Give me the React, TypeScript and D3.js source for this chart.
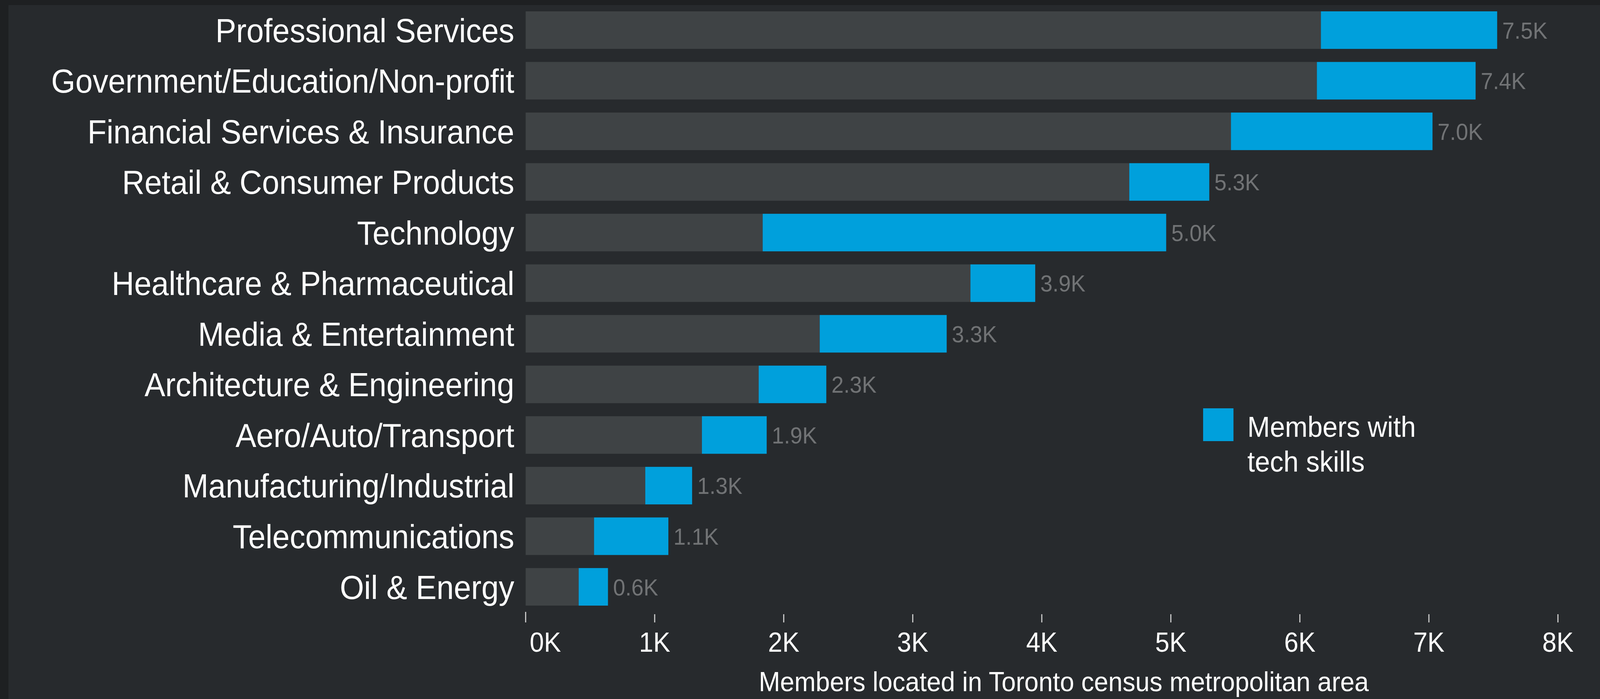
import * as d3 from 'd3';
import { useEffect } from 'react';

const WIDTH = 4374;
const HEIGHT = 1789;

const categories = [
  'Professional Services',
  'Government/Education/Non-profit',
  'Financial Services & Insurance',
  'Retail & Consumer Products',
  'Technology',
  'Healthcare & Pharmaceutical',
  'Media & Entertainment',
  'Architecture & Engineering',
  'Aero/Auto/Transport',
  'Manufacturing/Industrial',
  'Telecommunications',
  'Oil & Energy',
];

// members without tech skills (grey part)
const otherMembers = [6163, 6132, 5466, 4678, 1837, 3447, 2279, 1806, 1366, 927, 530, 411];
// members with tech skills (blue part)
const techMembers = [1366, 1230, 1562, 620, 3127, 502, 984, 524, 502, 363, 576, 227];

const xTicks = [0, 1000, 2000, 3000, 4000, 5000, 6000, 7000, 8000];

const COLORS = {
  frame: '#1e2022',
  panel: '#272a2d',
  other: '#3f4345',
  tech: '#00a0dc',
  text: '#ffffff',
  value: '#717375',
  tick: '#d0d0d0',
};

const FONT = '"Liberation Sans", Arial, Helvetica, sans-serif';

export default function App() {
  useEffect(() => {
    document.body.style.margin = '0';
    document.body.style.overflow = 'hidden';
    document.body.style.background = COLORS.panel;
  }, []);

  const xScale = d3.scaleLinear().domain([0, 8000]).range([1437, 4259]);

  const yScale = d3
    .scaleBand<string>()
    .domain(categories)
    .range([-4.4, 1583.4])
    .padding(0.258);

  const bw = yScale.bandwidth();
  const fmt = (v: number) => `${(v / 1000).toFixed(1)}K`;

  const bars = categories.map((c, i) => {
    const y = yScale(c) ?? 0;
    const other = otherMembers[i];
    const total = other + techMembers[i];
    return (
      <g key={c}>
        <rect
          x={xScale(0)}
          y={y}
          width={xScale(other) - xScale(0)}
          height={bw}
          fill={COLORS.other}
        />
        <rect
          x={xScale(other)}
          y={y}
          width={xScale(total) - xScale(other)}
          height={bw}
          fill={COLORS.tech}
        />
        <text
          x={xScale(0) - 31}
          y={y + bw / 2}
          dy="0.36em"
          textAnchor="end"
          fontSize={85}
          fill={COLORS.text}
        >
          {c}
        </text>
        <text
          x={xScale(total) + 14}
          y={y + bw / 2}
          dy="0.36em"
          fontSize={60}
          fill={COLORS.value}
        >
          {fmt(total)}
        </text>
      </g>
    );
  });

  const axis = xTicks.map((t, i) => (
    <g key={t}>
      <line
        x1={xScale(t)}
        x2={xScale(t)}
        y1={i === 0 ? 1566 : 1572}
        y2={1593}
        stroke={COLORS.tick}
        strokeWidth={3}
      />
      <text
        x={i === 0 ? xScale(t) + 11 : xScale(t)}
        y={1668}
        textAnchor={i === 0 ? 'start' : 'middle'}
        fontSize={70}
        fill={COLORS.text}
      >
        {`${t / 1000}K`}
      </text>
    </g>
  ));

  // the whole reference frame is mapped onto the viewport
  return (
    <svg
      viewBox={`0 0 ${WIDTH} ${HEIGHT}`}
      preserveAspectRatio="none"
      style={{ position: 'absolute', left: 0, top: 0, width: '100vw', height: '100vh', display: 'block' }}
      fontFamily={FONT}
    >
      <rect x={0} y={0} width={WIDTH} height={HEIGHT} fill={COLORS.frame} />
      <rect x={23} y={13} width={WIDTH - 23} height={HEIGHT - 13} fill={COLORS.panel} />
      {bars}
      {axis}
      <text x={2908} y={1769} textAnchor="middle" fontSize={70} fill={COLORS.text}>
        Members located in Toronto census metropolitan area
      </text>
      <g>
        <rect x={3289} y={1045} width={83} height={84} fill={COLORS.tech} />
        <text x={3410} y={1118} fontSize={74} fill={COLORS.text}>
          Members with
        </text>
        <text x={3410} y={1207} fontSize={74} fill={COLORS.text}>
          tech skills
        </text>
      </g>
    </svg>
  );
}
